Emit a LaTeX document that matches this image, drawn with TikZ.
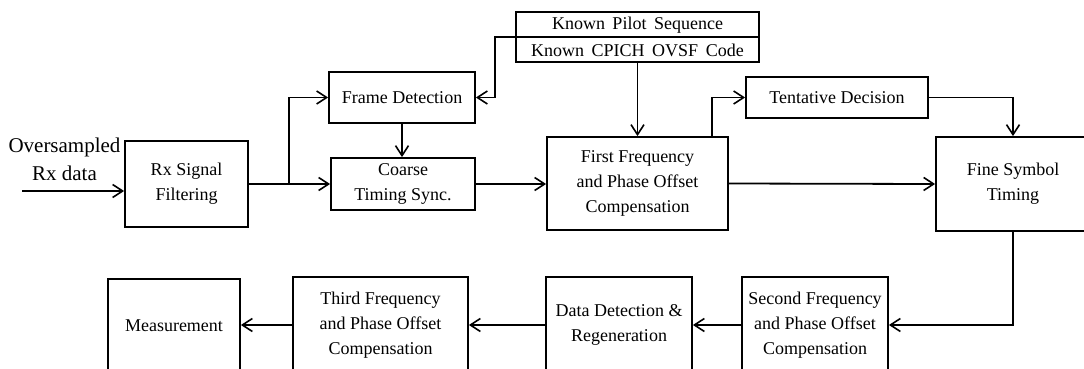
\documentclass[tikz,border=0pt]{standalone}
\usepackage{fontspec}
\setmainfont{Liberation Serif}
\usetikzlibrary{arrows.meta}
\newcommand{\widespaced}[1]{{\spaceskip=7.5pt plus 1pt\relax #1}}
\begin{document}
\begin{tikzpicture}[x=1pt,y=-1pt,
  every node/.style={font=\fontsize{18}{25}\selectfont},
  blk/.style={draw,line width=1.8pt,inner sep=0pt,align=center},
  wire/.style={line width=1.8pt},
  flow/.style={line width=1.8pt,-{Straight Barb[length=10pt,width=13pt,line width=1.6pt]}}]
\useasboundingbox (0,0) rectangle (1084,369);
\clip (0,0) rectangle (1084,369);

% input label
\node[font=\fontsize{21}{28}\selectfont,align=center,inner sep=0pt] (inlbl) at (64.5,159) {Oversampled\\Rx data};
\coordinate (in) at (22,191);

% upper chain
\node[blk,minimum width=123pt,minimum height=86pt] (rx) at (186.5,184) {Rx Signal\\Filtering};
\node[blk,minimum width=146pt,minimum height=51pt] (frame) at (402,97.5) {Frame Detection};
\node[blk,minimum width=144pt,minimum height=52pt] (coarse) at (403,184) {Coarse\\Timing Sync.};
\node[blk,minimum width=243pt,minimum height=50pt] (known) at (637.5,37) {};
\node[inner sep=0pt] (knownA) at (637.5,25) {\widespaced{Known Pilot Sequence}};
\node[inner sep=0pt] (knownB) at (637.5,50) {\widespaced{Known CPICH OVSF Code}};
\node[blk,minimum width=181pt,minimum height=93pt] (first) at (637.5,183.5) {First Frequency\\and Phase Offset\\Compensation};
\node[blk,minimum width=182pt,minimum height=41pt] (tent) at (837,97.5) {Tentative Decision};
\node[blk,minimum width=154pt,minimum height=94pt] (fine) at (1013,184) {Fine Symbol\\Timing};

% lower chain
\node[blk,minimum width=146pt,minimum height=96pt] (second) at (815,325) {Second Frequency\\and Phase Offset\\Compensation};
\node[blk,minimum width=146pt,minimum height=96pt] (data) at (619,325) {Data Detection \&\\Regeneration};
\node[blk,minimum width=175pt,minimum height=96pt] (third) at (380.5,325) {Third Frequency\\and Phase Offset\\Compensation};
\node[blk,minimum width=132pt,minimum height=94pt] (meas) at (174,326) {Measurement};

% divider of the reference box
\draw[wire] (known.west) -- (known.east);

% connectors
\coordinate (branch) at (289,184);
\coordinate (knownturn) at (495,37);
\draw[flow] (in) -- (in -| rx.west);
\draw[wire] (rx.east) -- (branch);
\draw[flow] (branch) |- (frame.west);
\draw[flow] (branch) -- (coarse.west);
\draw[flow] (frame.south) -- (frame.south |- coarse.north);
\draw[flow] (known.west) -- (knownturn) |- (frame.east);
\draw[flow] (known.south) -- (first.north);
\draw[flow] (coarse.east) -- (coarse.east -| first.west);
\draw[flow] ([xshift=-17pt]first.north east) |- (tent.west);
\draw[flow] (tent.east) -| (fine.north);
\draw[flow] (first.east) -- (fine.west);
\draw[flow] (fine.south) |- (second.east);
\draw[flow] (second.west) -- (data.east);
\draw[flow] (data.west) -- (third.east);
\draw[flow] (third.west) -- (third.west -| meas.east);
\end{tikzpicture}
\end{document}
